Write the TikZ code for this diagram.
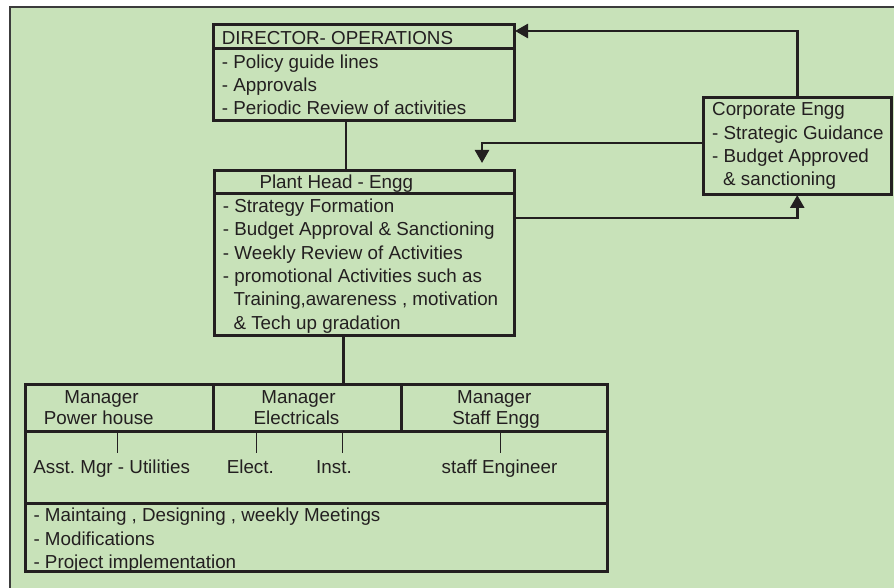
\documentclass[tikz,border=0pt]{standalone}
\usepackage{fontspec}
\setmainfont{Liberation Sans}
\usetikzlibrary{arrows.meta}
\frenchspacing

\definecolor{panel}{RGB}{200,226,185}
\definecolor{ink}{RGB}{35,31,32}
\definecolor{frame}{RGB}{60,60,60}

\tikzset{
  box/.style={draw=ink, line width=3pt, fill=panel, rectangle, inner sep=0pt,
              outer sep=0pt, anchor=north west},
  txt/.style={inner sep=0pt, anchor=base west, text=ink,
              font=\fontsize{18.8}{22}\selectfont},
  ctxt/.style={txt, anchor=base},
  conn/.style={draw=ink, line width=2.6pt},
  arr/.style={conn, -{Triangle[length=13pt,width=14pt]}},
  rule/.style={draw=ink, line width=3pt},
  tick/.style={draw=ink, line width=1pt},
}

\begin{document}
\begin{tikzpicture}[x=1pt, y=-1pt]
  \useasboundingbox (0,0) rectangle (894,588);
  % sheet background and frame
  \fill[white] (0,0) rectangle (894,588);
  \draw[frame, fill=panel, line width=2pt] (10,7) rectangle (905,600);

  % helper coordinates
  \coordinate (c31) at (0,31);
  \coordinate (c143) at (0,143);
  \coordinate (c218) at (0,218);
  \coordinate (c482) at (482,0);
  \coordinate (c346) at (346,0);
  \coordinate (c343) at (343.3,0);

  % boxes
  \node[box, minimum width=301pt, minimum height=96pt] (dir) at (213,25) {};
  \node[box, minimum width=300pt, minimum height=164pt] (plant) at (214,171) {};
  \node[box, minimum width=187.5pt, minimum height=97pt] (corp) at (703.5,98) {};
  \node[box, minimum width=582pt, minimum height=187pt] (tbl) at (25,384) {};

  % inner rules
  \draw[rule] (213,49) -- (514,49);
  \draw[rule] (214,194) -- (514,194);
  \draw[rule] (213,384) -- (213,431);
  \draw[rule] (401,384) -- (401,431);
  \draw[rule] (25,431) -- (607,431);
  \draw[rule] (25,503) -- (607,503);

  % director text
  \node[txt] (d0) at (221.7,45) {DIRECTOR- OPERATIONS};
  \node[txt] (d1) at (221.7,68.2) {- Policy guide lines};
  \node[txt] (d2) at (221.7,91.5) {- Approvals};
  \node[txt] (d3) at (221.7,114.8) {- Periodic Review of activities};

  % plant head text
  \node[txt] (p0) at (259.3,189) {Plant Head - Engg};
  \node[txt] (p1) at (222.7,212.7) {- Strategy Formation};
  \node[txt] (p2) at (222.7,236) {- Budget Approval \& Sanctioning};
  \node[txt] (p3) at (222.7,259.3) {- Weekly Review of Activities};
  \node[txt] (p4) at (222.7,282.6) {- promotional Activities such as};
  \node[txt] (p5) at (233.3,305.9) {Training,awareness , motivation};
  \node[txt] (p6) at (233.3,329.2) {\& Tech up gradation};

  % corporate text
  \node[txt] (k0) at (712,116) {Corporate Engg};
  \node[txt] (k1) at (712,139.3) {- Strategic Guidance};
  \node[txt] (k2) at (712,162.6) {- Budget Approved};
  \node[txt] (k3) at (723,186) {\& sanctioning};

  % managers
  \node[ctxt] (m1a) at (101.5,403) {Manager};
  \node[ctxt] (m1b) at (98.8,424) {Power house};
  \node[ctxt] (m2a) at (298.5,403) {Manager};
  \node[ctxt] (m2b) at (296.5,424) {Electricals};
  \node[ctxt] (m3a) at (494.3,403) {Manager};
  \node[ctxt] (m3b) at (496,424) {Staff Engg};

  % subordinates
  \node[ctxt] (s1) at (111.7,473) {Asst. Mgr - Utilities};
  \node[ctxt] (s2) at (250.3,473) {Elect.};
  \node[ctxt] (s3) at (334,473) {Inst.};
  \node[ctxt] (s4) at (499.5,473) {staff Engineer};
  \draw[tick] (117.7,431) -- (117.7,453);
  \draw[tick] (256.7,431) -- (256.7,453);
  \draw[tick] (342.7,431) -- (342.7,453);
  \draw[tick] (500.3,431) -- (500.3,453);

  % duties
  \node[txt] (b1) at (33.3,521.7) {- Maintaing , Designing , weekly Meetings};
  \node[txt] (b2) at (33.3,545) {- Modifications};
  \node[txt] (b3) at (33.3,568) {- Project implementation};

  % connectors
  \draw[conn] (dir.south -| c346) -- (plant.north -| c346);
  \draw[conn] (plant.south -| c343) -- (tbl.north -| c343);
  \draw[arr] (corp.north) |- ([xshift=1pt]dir.east |- c31);
  \draw[arr] (corp.west |- c143) -| ([yshift=8pt]plant.north -| c482);
  \draw[arr] (plant.east |- c218) -| (corp.south);
\end{tikzpicture}
\end{document}
